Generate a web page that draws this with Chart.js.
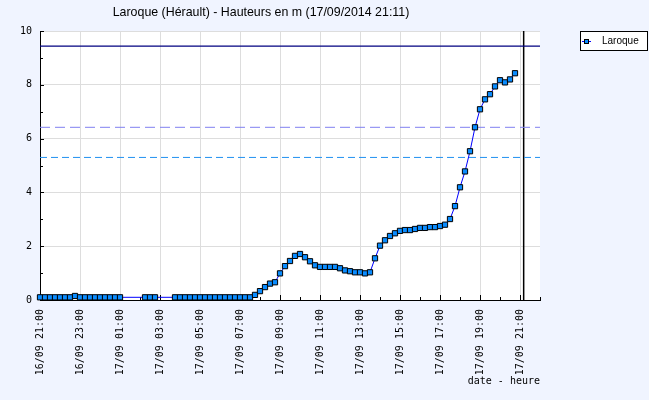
<!DOCTYPE html>
<html>
<head>
<meta charset="utf-8">
<script src="https://cdn.jsdelivr.net/npm/chart.js@4/dist/chart.umd.min.js"></script>
<style>
body{margin:0;background:#f0f4ff;}
#wrap{width:649px;height:400px;}
</style>
</head>
<body>
<div id="wrap"><canvas id="myChart" width="649" height="400"></canvas></div>
<script>
// data
const chart_title='Laroque (Hérault) - Hauteurs en m (17/09/2014 21:11)';
const station='Laroque';
const x_title='date - heure';
const tick_labels=['16/09 21:00','16/09 23:00','17/09 01:00','17/09 03:00','17/09 05:00','17/09 07:00',
    '17/09 09:00','17/09 11:00','17/09 13:00','17/09 15:00','17/09 17:00','17/09 19:00','17/09 21:00'];
const times=['21:00','21:15','21:30','21:45','22:00','22:15','22:30','22:45','23:00','23:15','23:30','23:45',
    '00:00','00:15','00:30','00:45','01:00',
    '02:15','02:30','02:45',
    '03:45','04:00','04:15','04:30','04:45','05:00','05:15','05:30','05:45','06:00','06:15','06:30','06:45',
    '07:00','07:15','07:30','07:45','08:00','08:15','08:30','08:45','09:00','09:15','09:30','09:45',
    '10:00','10:15','10:30','10:45','11:00','11:15','11:30','11:45','12:00','12:15','12:30','12:45',
    '13:00','13:15','13:30','13:45','14:00','14:15','14:30','14:45','15:00','15:15','15:30','15:45',
    '16:00','16:15','16:30','16:45','17:00','17:15','17:30','17:45','18:00','18:15','18:30','18:45',
    '19:00','19:15','19:30','19:45','20:00','20:15','20:30','20:45'];
const heights=[0.1,0.1,0.1,0.1,0.1,0.1,0.1,0.15,0.1,0.1,0.1,0.1,
    0.1,0.1,0.1,0.1,0.1,
    0.1,0.1,0.1,
    0.1,0.1,0.1,0.1,0.1,0.1,0.1,0.1,0.1,0.1,0.1,0.1,0.1,
    0.1,0.1,0.1,0.19,0.33,0.48,0.61,0.66,0.99,1.26,1.45,1.64,
    1.71,1.59,1.44,1.29,1.23,1.23,1.23,1.23,1.18,1.10,1.07,1.03,
    1.03,0.99,1.03,1.55,2.02,2.22,2.38,2.48,2.57,2.60,2.60,2.64,
    2.68,2.68,2.71,2.71,2.75,2.80,3.01,3.49,4.19,4.78,5.53,6.42,
    7.09,7.46,7.65,7.94,8.17,8.09,8.20,8.43];
const seuil_haut=9.44;
const seuils_tirets=[6.42,5.30];
const now_day=17;
const now_time='21:11';

// hours since 16/09 21:00
function hours_from_start(day,hhmm){
    let parts=hhmm.split(':').map(Number);
    return (day-16)*24+parts[0]+parts[1]/60-21;
}

let points=[];
let day=16;
let prev_hour=-1;
times.forEach((t,i)=>{
    let h=parseInt(t.split(':')[0]);
    if(h<prev_hour){ day++; }
    prev_hour=h;
    points.push({x:hours_from_start(day,t),y:heights[i]});
});
const x_max=25;
const now_x=hours_from_start(now_day,now_time);

function hline(v,color,dash,width){
    return {data:[{x:0,y:v},{x:x_max,y:v}],borderColor:color,borderWidth:width,borderDash:dash,
        pointRadius:0,fill:false};
}

const inner_ticks={
    id:'inner_ticks',
    beforeDraw(chart){
        const a=chart.chartArea;
        chart.ctx.save();
        chart.ctx.fillStyle='#ffffff';
        chart.ctx.fillRect(a.left,a.top,a.right-a.left,a.bottom-a.top);
        chart.ctx.restore();
    },
    beforeDatasetsDraw(chart){
        const ctx=chart.ctx, a=chart.chartArea;
        ctx.save();
        ctx.strokeStyle='#000';
        ctx.lineWidth=1;
        chart.scales.x.ticks.forEach(t=>{
            let px=Math.round(chart.scales.x.getPixelForValue(t.value))+0.5;
            let len=t.value%2===0?5:3;
            ctx.beginPath();ctx.moveTo(px,a.bottom);ctx.lineTo(px,a.bottom-len);ctx.stroke();
        });
        chart.scales.y.ticks.forEach(t=>{
            let py=Math.round(chart.scales.y.getPixelForValue(t.value))+0.5;
            let len=t.value%2===0?4:3;
            ctx.beginPath();ctx.moveTo(a.left,py);ctx.lineTo(a.left+len,py);ctx.stroke();
        });
        ctx.restore();
    },
    afterDraw(chart){
        const ctx=chart.ctx;
        ctx.save();
        // title
        ctx.fillStyle='#000';
        ctx.font='12.4px "Liberation Sans"';
        ctx.textAlign='center';
        ctx.textBaseline='middle';
        ctx.fillText(chart_title,261,13);
        // legend box
        ctx.fillStyle='#ffffff';
        ctx.fillRect(580.5,31.5,67,19);
        ctx.strokeStyle='#000';
        ctx.strokeRect(580.5,31.5,67,19);
        ctx.strokeStyle='#0000ff';
        ctx.beginPath();ctx.moveTo(582,41.5);ctx.lineTo(591,41.5);ctx.stroke();
        ctx.fillStyle='#0a8cff';
        ctx.fillRect(584,39,5,5);
        ctx.strokeStyle='#000';
        ctx.strokeRect(584.5,39.5,4,4);
        ctx.fillStyle='#000';
        ctx.font='10px "Liberation Sans"';
        ctx.textAlign='left';
        ctx.fillText(station,602,41.5);
        ctx.restore();
    }
};

const ctx=document.getElementById('myChart').getContext('2d');
const myChart=new Chart(ctx,{
    type:'line',
    data:{
        datasets:[{
            label:station,
            data:points,
            borderColor:'#0000ff',
            borderWidth:1,
            pointStyle:'rect',
            pointRadius:3.7,
            pointBackgroundColor:'#0a8cff',
            pointBorderColor:'#000000',
            pointBorderWidth:1,
            clip:false,
            fill:false
        },
        hline(seuil_haut,'#000080',[],1.2),
        hline(seuils_tirets[0],'#8080f0',[10,5],1),
        hline(seuils_tirets[1],'#2090f0',[7,4],1),
        {data:[{x:now_x,y:0},{x:now_x,y:10}],borderColor:'#000000',borderWidth:1.5,pointRadius:0,fill:false}
        ]
    },
    options:{
        responsive:false,
        animation:false,
        layout:{padding:{top:31,right:109,left:0,bottom:0}},
        plugins:{legend:{display:false},tooltip:{enabled:false},title:{display:false}},
        scales:{
            x:{
                type:'linear',
                min:0,
                max:x_max,
                afterFit:s=>{s.height=100;},
                border:{color:'#000',width:1},
                grid:{drawTicks:false,color:c=>(c.tick&&c.tick.value%2===0&&c.tick.value>0)?'#dddddd':'rgba(0,0,0,0)'},
                ticks:{
                    stepSize:1,autoSkip:false,minRotation:90,maxRotation:90,padding:9,color:'#000',
                    font:{family:'"DejaVu Sans Mono"',size:10},
                    callback:v=>(v%2===0?(tick_labels[v/2]||''):'')
                },
                title:{display:true,text:x_title,align:'end',color:'#000',
                    font:{family:'"DejaVu Sans Mono"',size:10},padding:{top:0,bottom:13}}
            },
            y:{
                min:0,
                max:10,
                afterFit:s=>{s.width=40;},
                border:{color:'#000',width:1},
                grid:{drawTicks:false,color:c=>(c.tick&&c.tick.value%2===0&&c.tick.value>0)?'#dddddd':'rgba(0,0,0,0)'},
                ticks:{
                    stepSize:1,padding:8,color:'#000',
                    font:{family:'"DejaVu Sans Mono"',size:10},
                    callback:v=>(v%2===0?String(v):'')
                }
            }
        }
    },
    plugins:[inner_ticks]
});
</script>
</body>
</html>
